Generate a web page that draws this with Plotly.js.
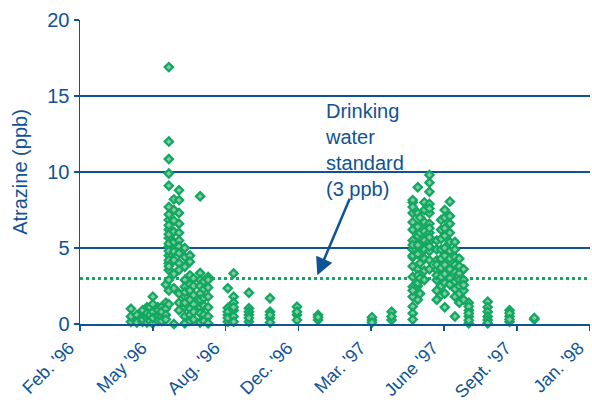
<!DOCTYPE html>
<html>
<head>
<meta charset="utf-8">
<script src="https://cdn.plot.ly/plotly-3.0.1.min.js"></script>
<style>html,body{margin:0;padding:0;background:#fff;}#chart{width:592px;height:404px;}</style>
</head>
<body>
<div id="chart"></div>
<script>
// Sampling dates and atrazine concentrations (ppb)
const sampleDates = [
  '1996-04-15','1996-04-23','1996-05-01','1996-05-07','1996-05-11','1996-05-15',
  '1996-05-22','1996-05-27','1996-06-02','1996-06-06','1996-06-13','1996-06-20',
  '1996-06-28','1996-07-05','1996-07-10','1996-07-19','1996-07-24','1996-07-30',
  '1996-08-26','1996-09-03','1996-09-24','1996-10-23','1996-11-29','1996-12-28',
  '1997-03-12','1997-04-08','1997-05-07','1997-05-14','1997-05-17','1997-05-23',
  '1997-05-30','1997-06-09','1997-06-15','1997-06-20','1997-06-27','1997-07-04',
  '1997-07-10','1997-07-16','1997-07-23','1997-08-18','1997-09-17','1997-10-21'
];
const atrazinePpb = [
  [1.0, 0.15, 0.5],
  [0.3, 0.6, 0.1],
  [0.5, 0.15, 0.9, 0.3],
  [1.1, 0.4, 0.7, 0.1],
  [1.1, 0.6, 0.2],
  [1.8, 1.3, 0.8, 0.05, 0.4],
  [1.1, 0.5, 0.9, 0.2],
  [1.1, 0.5, 0.8, 0.2],
  [2.6, 1.4, 1.0, 0.6, 0.3],
  [16.9, 12.0, 10.85, 9.9, 9.1, 7.7, 6.85, 6.2, 5.65, 5.1, 4.5, 4.0, 3.55, 2.9, 2.2, 1.3, 7.2, 6.5, 5.9, 5.3, 4.8, 4.2, 3.8],
  [8.2, 7.5, 6.8, 6.07, 5.4, 4.76, 4.2, 3.3, 2.35, 0.0],
  [8.8, 8.15, 7.3, 6.6, 6.0, 5.5, 5.1, 4.66, 4.0, 3.55, 2.0, 1.4, 0.9],
  [5.0, 4.4, 3.77, 2.9, 2.45, 1.8, 1.1, 0.5, 0.05, 1.4, 2.1],
  [4.5, 4.1, 3.2, 2.6, 2.2, 1.6, 1.0, 0.6, 0.2],
  [3.0, 2.5, 1.9, 1.3, 0.8, 0.3],
  [8.4, 3.35, 2.9, 2.5, 2.0, 1.6, 1.1, 0.7, 0.1],
  [2.8, 2.3, 1.7, 1.2, 0.6, 0.2],
  [3.1, 2.4, 1.8, 1.1, 0.5, 0.05, 2.9],
  [2.35, 1.05, 0.6, 0.15, 0.8, 0.4],
  [3.33, 1.8, 1.4, 0.9, 0.5, 0.15, 1.1],
  [2.06, 1.03, 0.8, 0.6, 0.15, 0.4],
  [1.69, 0.8, 0.4, 0.1, 0.6],
  [1.14, 0.6, 0.26, 0.8],
  [0.6, 0.26, 0.45],
  [0.26, 0.45, 0.1],
  [0.8, 0.26, 0.5],
  [8.0, 7.3, 6.7, 6.2, 5.5, 4.9, 4.4, 3.8, 3.1, 2.45, 1.8, 1.15, 0.7, 0.3, 8.15, 7.7, 5.2, 4.5, 2.2],
  [9.0, 7.3, 6.4, 5.8, 5.2, 4.6, 3.6, 2.5, 1.6, 2.7, 3.2],
  [7.0, 6.0, 4.0, 3.0, 2.0],
  [8.0, 7.5, 6.7, 6.1, 5.5, 4.9, 4.3, 3.5, 2.9],
  [9.8, 8.7, 7.9, 7.3, 6.6, 6.0, 5.4, 4.8, 4.2, 3.6, 9.3, 7.6, 6.3, 5.7, 5.1],
  [5.5, 4.9, 4.2, 3.55, 2.9, 2.2, 1.6, 3.2, 3.9],
  [6.85, 6.2, 5.6, 4.9, 4.3, 3.7, 3.1, 2.5, 1.9],
  [7.5, 7.0, 6.3, 5.8, 5.0, 4.5, 3.9, 3.3, 2.7, 2.0, 1.1],
  [8.05, 6.6, 6.0, 5.4, 4.8, 4.3, 3.6, 3.0, 2.6, 7.1],
  [5.4, 4.9, 4.4, 3.9, 3.4, 2.8, 2.3, 1.8, 0.5],
  [3.33, 2.9, 2.5, 2.0, 1.4, 3.8, 4.3],
  [3.6, 2.9, 2.2, 1.6, 2.57],
  [1.4, 0.9, 0.5, 0.05, 1.15, 0.7, 0.25],
  [1.47, 1.1, 0.8, 0.5, 0.26, 0.05],
  [0.9, 0.5, 0.15, 0.7, 0.3],
  [0.3, 0.4]
];
const tickDates = ['1996-02-05','1996-05-15','1996-08-23','1996-12-01','1997-03-11','1997-06-19','1997-09-27','1998-01-05'];
const tickLabels = ["Feb. '96","May '96","Aug. '96","Dec. '96","Mar. '97","June '97","Sept. '97","Jan. '98"];
const xRange = ['1996-02-05', '1998-01-05 12:00'];
const yTicks = [0, 5, 10, 15, 20];
const standardPpb = 3;
const arrowTipDate = '1996-12-27';
const arrowTipPpb = 3.2;
const noteDate = '1997-01-04';
const notePpb = 14.9;

const xs = [], ys = [];
sampleDates.forEach((d, i) => atrazinePpb[i].forEach(v => { xs.push(d); ys.push(v); }));

const blue = '#0f5396';
const green = '#13a862';
const font = 'Liberation Sans, Arial, sans-serif';

const trace = {
  x: xs, y: ys, type: 'scatter', mode: 'markers', cliponaxis: false,
  marker: { symbol: 'diamond', size: 6.3, color: '#80cc9f', line: { color: green, width: 2.3 } },
  hoverinfo: 'x+y'
};

const layout = {
  width: 592, height: 404,
  margin: { l: 80, r: 2, t: 20, b: 80 },
  paper_bgcolor: '#fff', plot_bgcolor: '#fff',
  showlegend: false,
  font: { family: font, color: blue, size: 20 },
  xaxis: {
    type: 'date', range: xRange,
    tickmode: 'array', tickvals: tickDates, ticktext: tickLabels, tickangle: -45,
    ticks: 'outside', ticklen: 5, tickwidth: 1.5, tickcolor: blue,
    ticklabelshift: -11,
    showline: true, linecolor: blue, linewidth: 1.5, showgrid: false, zeroline: false,
    tickfont: { family: font, size: 18, color: blue }
  },
  yaxis: {
    range: [0, 20], tickmode: 'array', tickvals: yTicks,
    ticks: 'outside', ticklen: 5, tickwidth: 1.5, tickcolor: blue,
    showline: true, linecolor: blue, linewidth: 1.5,
    showgrid: true, gridcolor: blue, gridwidth: 1.5, zeroline: false,
    tickfont: { family: font, size: 20, color: blue },
    title: { text: 'Atrazine (ppb)', font: { family: font, size: 20, color: blue }, standoff: 14 }
  },
  shapes: [{
    type: 'line', xref: 'paper', x0: 0, x1: 1, yref: 'y', y0: standardPpb, y1: standardPpb,
    line: { color: green, width: 3, dash: 'dot' }, layer: 'below'
  }],
  annotations: [
    {
      x: arrowTipDate, y: arrowTipPpb, xref: 'x', yref: 'y', text: '',
      showarrow: true, arrowhead: 2, arrowsize: 1.4, arrowwidth: 2.5, arrowcolor: blue,
      ax: 33, ay: -78, standoff: 0
    },
    {
      x: noteDate, y: notePpb, xref: 'x', yref: 'y', xanchor: 'left', yanchor: 'top', align: 'left',
      text: 'Drinking<br>water<br>standard<br>(3 ppb)', showarrow: false,
      font: { family: font, size: 20, color: blue }
    }
  ]
};

Plotly.newPlot('chart', [trace], layout, { displayModeBar: false, staticPlot: true });
</script>
</body>
</html>
